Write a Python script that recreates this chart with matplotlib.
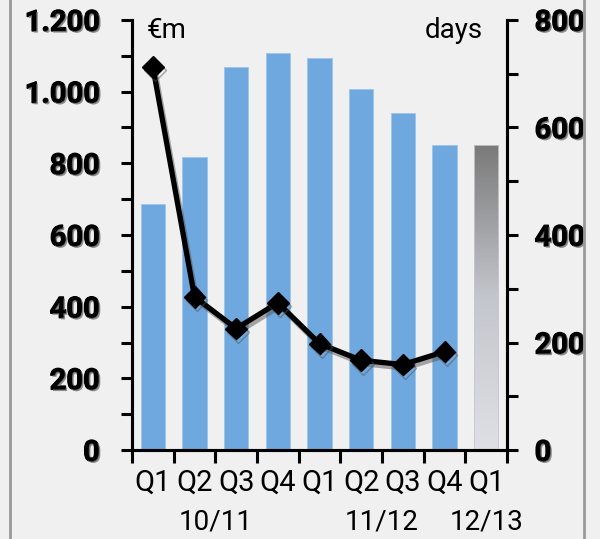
import numpy as np
import matplotlib
matplotlib.use('Agg')
import matplotlib.pyplot as plt
import matplotlib.patheffects as pe
from matplotlib.lines import Line2D
from matplotlib.ticker import MultipleLocator

quarters = ['Q1', 'Q2', 'Q3', 'Q4', 'Q1', 'Q2', 'Q3', 'Q4', 'Q1']
years = ['10/11', '11/12', '12/13']
year_span = [(0, 3), (4, 7), (8, 8)]
amount = [687, 819, 1068, 1107, 1093, 1008, 940, 850, 850]   # €m, left axis
days = [713, 285, 226, 274, 198, 167, 159, 183]              # right axis

bg = '#f0f0f0'
blue = '#6fa8de'

fig = plt.figure(figsize=(6.0, 5.39), dpi=100, facecolor=bg)
ax = fig.add_axes([0.22, 0.165, 0.625, 0.798])
ax.set_facecolor(bg)
ax2 = ax.twinx()

x = np.arange(len(quarters))
bars = ax.bar(x[:-1], amount[:-1], width=0.58, color=blue, edgecolor='#9cc4ea', linewidth=0.6, zorder=2)

# last quarter drawn with a grey gradient
last = ax.bar(x[-1], amount[-1], width=0.58, color='none', edgecolor='#c8c8cc', linewidth=0.6, zorder=3)[0]
grad = np.linspace(0, 1, 256).reshape(-1, 1)
cmap = matplotlib.colors.LinearSegmentedColormap.from_list('g', ['#dfe0e5', '#c4c6cd', '#7a7a7a'])
img = ax.imshow(grad, cmap=cmap, aspect='auto', origin='lower',
                extent=[x[-1] - 0.29, x[-1] + 0.29, 0, amount[-1]], zorder=2)
img.set_clip_path(last)

ax.set_xlim(-0.5, len(quarters) - 0.5)
ax.set_ylim(0, 1200)
ax2.set_ylim(0, 800)

shadow = [pe.SimpleLineShadow(offset=(1.5, -2.5), shadow_color='#555555', alpha=0.5), pe.Normal()]
ax2.plot(x[:len(days)], days, color='black', lw=3.8, marker='D', markersize=11,
         zorder=5, path_effects=shadow)
ax2.set_zorder(ax.get_zorder() + 1)
ax2.patch.set_visible(False)

for a in (ax, ax2):
    a.spines['top'].set_visible(False)
    for s in a.spines.values():
        s.set_linewidth(2.2)

ax.yaxis.set_major_locator(MultipleLocator(200))
ax.yaxis.set_minor_locator(MultipleLocator(100))
ax2.yaxis.set_major_locator(MultipleLocator(200))
ax2.yaxis.set_minor_locator(MultipleLocator(100))
ax.yaxis.set_major_formatter(matplotlib.ticker.FuncFormatter(lambda v, p: f'{int(v):,}'.replace(',', '.')))

txt_shadow = [pe.withSimplePatchShadow(offset=(1.2, -1.2), shadow_rgbFace='#777777', alpha=0.8)]
ax.tick_params(axis='y', which='both', length=8, width=2.2, pad=15)
ax2.tick_params(axis='y', which='both', length=8, width=2.2, pad=12)
for lab in ax.get_yticklabels() + ax2.get_yticklabels():
    lab.set_fontweight('bold')
    lab.set_family('Roboto')
    lab.set_fontsize(21)
    lab.set_path_effects([pe.withStroke(linewidth=1.0, foreground='black')] + txt_shadow)

# quarter labels between boundary ticks
ax.set_xticks(np.arange(len(quarters) + 1) - 0.5)
ax.set_xticklabels([])
ax.tick_params(axis='x', length=9, width=2.2)
for i, q in enumerate(quarters):
    ax.text(i, -0.075, q, transform=ax.get_xaxis_transform(), ha='center', va='center',
            fontsize=21, family='Roboto')
for yr, (a0, a1) in zip(years, year_span):
    ax.text((a0 + a1) / 2, -0.167, yr, transform=ax.get_xaxis_transform(), ha='center', va='center',
            fontsize=20, family='Roboto')

ax.text(0.04, 0.975, '€m', transform=ax.transAxes, ha='left', va='center', fontsize=20, family='Roboto')
ax.text(0.935, 0.975, 'days', transform=ax.transAxes, ha='right', va='center', fontsize=20, family='Roboto')

for xf in (10 / 600, 584 / 600):
    fig.add_artist(Line2D([xf, xf], [0, 1], transform=fig.transFigure, color='#999999', lw=2))

fig.savefig('out.png', dpi=100, facecolor=bg)
